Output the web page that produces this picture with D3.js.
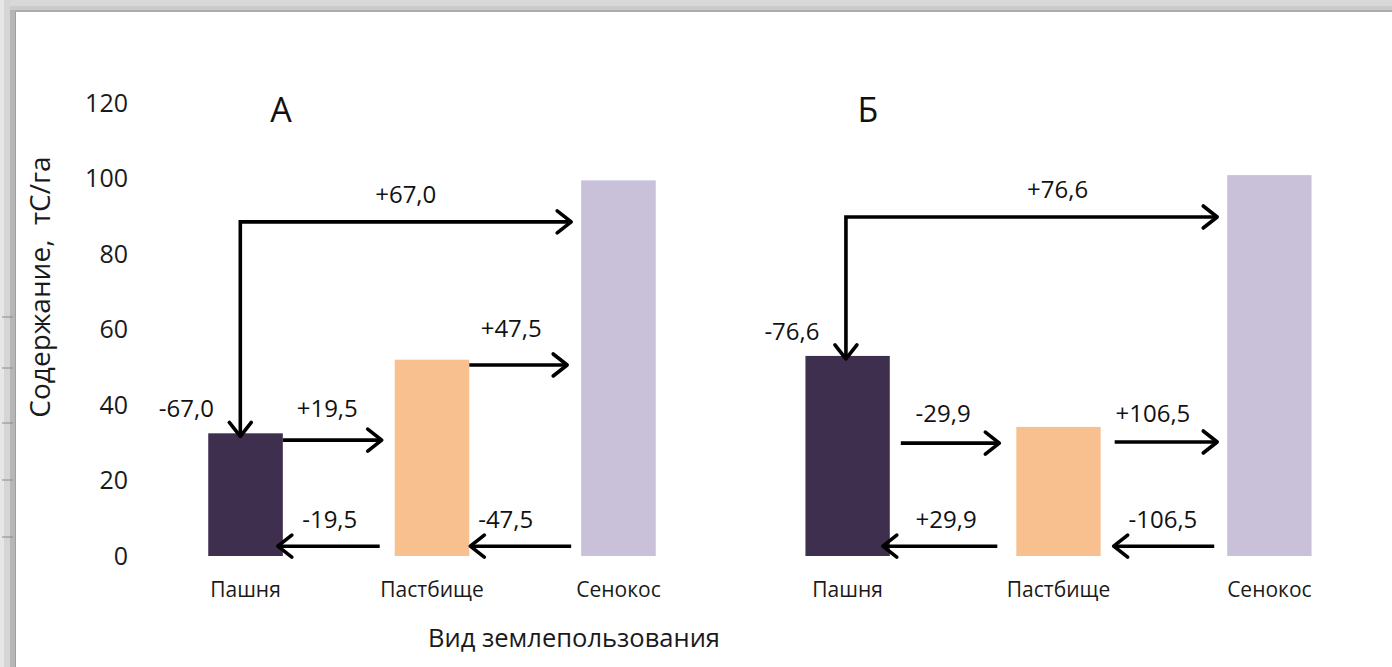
<!DOCTYPE html>
<html>
<head>
<meta charset="utf-8">
<script src="https://cdn.jsdelivr.net/npm/d3@7/dist/d3.min.js"></script>
<style>
  html, body { margin: 0; padding: 0; background: #fff; }
  svg { display: block; font-family: "Open Sans", "Noto Sans", sans-serif; }
</style>
</head>
<body>
<svg id="chart" width="1392" height="667"></svg>
<script>
// Land-use categories and soil carbon content (tC/ha)
const categories = ["Пашня", "Пастбище", "Сенокос"];
const valuesA = [32.5, 52.0, 99.5];
const valuesB = [53.0, 34.2, 100.9];
const barColors = ["#3f2f4e", "#f8c08f", "#c9c1da"];
const yTicks = [0, 20, 40, 60, 80, 100, 120];
// Carbon change labels for each land-use conversion
const flowLabelsA = ["+67,0", "-67,0", "+19,5", "-19,5", "+47,5", "-47,5"];
const flowLabelsB = ["+76,6", "-76,6", "-29,9", "+29,9", "+106,5", "-106,5"];

const svg = d3.select("#chart");
const W = 1392, H = 667;

// window frame around the slide
const frame = svg.append("g");
frame.append("rect").attr("x", 0).attr("y", 0).attr("width", W).attr("height", 12).attr("fill", "#d8d8d8");
frame.append("rect").attr("x", 0).attr("y", 6).attr("width", W).attr("height", 4).attr("fill", "#cbcbcb");
frame.append("rect").attr("x", 12).attr("y", 10).attr("width", W - 12).attr("height", 2).attr("fill", "#ababab");
frame.append("rect").attr("x", 0).attr("y", 0).attr("width", 4).attr("height", H).attr("fill", "#e6e6e6");
frame.append("rect").attr("x", 4).attr("y", 0).attr("width", 6).attr("height", H).attr("fill", "#d5d5d5");
frame.append("rect").attr("x", 10).attr("y", 10).attr("width", 5).attr("height", H).attr("fill", "#b6b6b6");
frame.append("rect").attr("x", 15).attr("y", 12).attr("width", 1).attr("height", H).attr("fill", "#9e9e9e");
[317, 368, 423, 480, 537].forEach(ty => {
  frame.append("line").attr("x1", 2).attr("x2", 13).attr("y1", ty).attr("y2", ty)
    .attr("stroke", "#8a8a8a").attr("stroke-width", 1);
});

// shared vertical scale
const y = d3.scaleLinear().domain([0, 120]).range([556, 103]);

// y axis: labels only
const yAxis = d3.axisLeft(y).tickValues(yTicks).tickSize(0).tickPadding(0);
const gy = svg.append("g").attr("transform", "translate(128,0)").call(yAxis);
gy.select(".domain").remove();
gy.selectAll("text").attr("font-size", 25).attr("fill", "#1a1a1a")
  .attr("font-family", "'Open Sans', sans-serif");

svg.append("text")
  .attr("transform", "translate(50,287) rotate(-90)")
  .attr("text-anchor", "middle").attr("font-size", 28).attr("fill", "#1a1a1a")
  .attr("xml:space", "preserve")
  .text("Содержание,  тС/га");

svg.append("text").attr("x", 574).attr("y", 647).attr("text-anchor", "middle")
  .attr("font-size", 25.5).attr("fill", "#1a1a1a").text("Вид землепользования");

function arrowHead(g, x, yy, dir) {
  // open chevron pointing in direction dir: "r", "l", "d"
  let d;
  if (dir === "r") d = `M${x - 14},${yy - 11}L${x},${yy}L${x - 14},${yy + 11}`;
  else if (dir === "l") d = `M${x + 14},${yy - 11}L${x},${yy}L${x + 14},${yy + 11}`;
  else d = `M${x - 11},${yy - 14}L${x},${yy}L${x + 11},${yy - 14}`;
  g.append("path").attr("d", d).attr("fill", "none").attr("stroke", "#000")
    .attr("stroke-width", 3.6).attr("stroke-linejoin", "round").attr("stroke-linecap", "round");
}

function shaft(g, pts) {
  g.append("path").attr("d", d3.line()(pts)).attr("fill", "none").attr("stroke", "#000")
    .attr("stroke-width", 3.6).attr("stroke-linejoin", "miter");
}

function label(g, x, yy, txt) {
  g.append("text").attr("x", x).attr("y", yy).attr("text-anchor", "middle")
    .attr("font-size", 24).attr("fill", "#111").text(txt);
}

function drawPanel(opts) {
  const { values, labels, range, title, titleX, geo } = opts;
  const g = svg.append("g");
  const x = d3.scaleBand().domain(categories).range(range).paddingInner(0.6).paddingOuter(0.5);
  const bw = x.bandwidth();
  const L = i => x(categories[i]);
  const R = i => x(categories[i]) + bw;

  g.selectAll("rect.bar").data(values).join("rect").attr("class", "bar")
    .attr("x", (d, i) => L(i)).attr("width", bw)
    .attr("y", d => y(d)).attr("height", d => y(0) - y(d))
    .attr("fill", (d, i) => barColors[i]);

  g.selectAll("text.cat").data(categories).join("text").attr("class", "cat")
    .attr("x", d => x(d) + bw / 2).attr("y", 597).attr("text-anchor", "middle")
    .attr("font-size", 21).attr("fill", "#1a1a1a").text(d => d);

  g.append("text").attr("x", titleX).attr("y", 122).attr("text-anchor", "middle")
    .attr("font-size", 34).attr("fill", "#111").text(title);

  // elbow arrow: from first bar up, across to the last bar, and back down into the first
  const vx = L(0) + bw * geo.elbowFrac;
  const topY = y(geo.elbowLevel);
  const hx = L(2) - geo.elbowGap;
  const tipY = y(values[0]) + 3;
  shaft(g, [[hx, topY], [vx, topY], [vx, tipY]]);
  arrowHead(g, hx, topY, "r");
  arrowHead(g, vx, tipY, "d");
  label(g, (vx + hx) / 2 + geo.topLabelDx, topY - 19, labels[0]);
  label(g, vx - 54, y(values[0]) - 16, labels[1]);

  // straight transfer arrows between neighbouring bars
  geo.flows.forEach(f => {
    const yy = y(f.level);
    let x1, x2;
    if (f.dir === "r") { x1 = R(f.from) + f.g1; x2 = L(f.to) - f.g2; }
    else { x1 = L(f.from) - f.g1; x2 = R(f.to) - f.g2; }
    shaft(g, [[x1, yy], [x2, yy]]);
    arrowHead(g, x2, yy, f.dir);
    label(g, (x1 + x2) / 2 + f.ldx, yy - f.ldy, labels[f.lab]);
  });
}

drawPanel({
  values: valuesA, labels: flowLabelsA, range: [115, 749], title: "А", titleX: 281,
  geo: {
    elbowFrac: 0.43, elbowLevel: 88.5, elbowGap: 10, topLabelDx: 0,
    flows: [
      { dir: "r", from: 0, to: 1, level: 30.7, g1: 0, g2: 13, lab: 2, ldx: -5, ldy: 23 },
      { dir: "l", from: 1, to: 0, level: 2.6, g1: 15, g2: 5, lab: 3, ldx: 1, ldy: 18 },
      { dir: "r", from: 1, to: 2, level: 50.6, g1: 0, g2: 14, lab: 4, ldx: -7, ldy: 28 },
      { dir: "l", from: 2, to: 1, level: 2.6, g1: 10, g2: -1, lab: 5, ldx: -15, ldy: 18 }
    ]
  }
});

drawPanel({
  values: valuesB, labels: flowLabelsB, range: [700, 1417], title: "Б", titleX: 868,
  geo: {
    elbowFrac: 0.48, elbowLevel: 89.8, elbowGap: 10, topLabelDx: 26,
    flows: [
      { dir: "r", from: 0, to: 1, level: 29.9, g1: 11, g2: 17, lab: 2, ldx: -7, ldy: 21 },
      { dir: "l", from: 1, to: 0, level: 2.6, g1: 19, g2: 7, lab: 3, ldx: 6, ldy: 18 },
      { dir: "r", from: 1, to: 2, level: 30.2, g1: 14, g2: 10, lab: 4, ldx: -13, ldy: 20 },
      { dir: "l", from: 2, to: 1, level: 2.6, g1: 13, g2: -13, lab: 5, ldx: -1, ldy: 18 }
    ]
  }
});
</script>
</body>
</html>
